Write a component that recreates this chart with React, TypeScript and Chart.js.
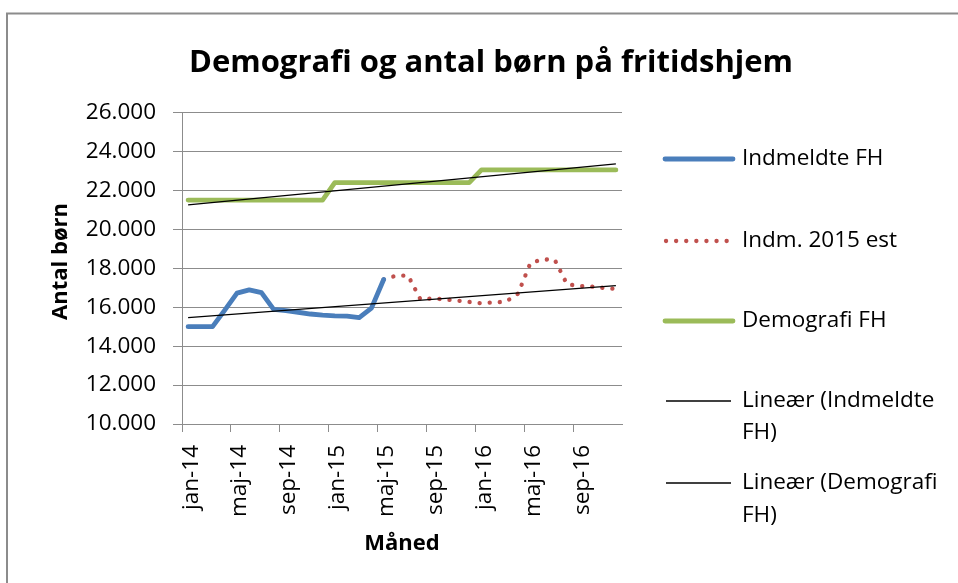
import React, { useEffect, useRef } from 'react';
import { Chart, registerables } from 'chart.js';

Chart.register(...registerables);

// ---------- data ----------
const monthNames = ['jan', 'feb', 'mar', 'apr', 'maj', 'jun', 'jul', 'aug', 'sep', 'okt', 'nov', 'dec'];
const years = ['14', '15', '16'];
const months = years.flatMap((y) => monthNames.map((m) => `${m}-${y}`));

// Indmeldte FH: jan-14 .. maj-15
const indmeldteFH = [
  15000, 15000, 15000, 15850, 16720, 16890, 16750, 15890, 15820, 15740, 15650, 15590,
  15550, 15540, 15460, 15950, 17420,
];
// Indm. 2015 est: maj-15 .. dec-16
const indm2015Est = [
  17420, 17620, 17620, 16410, 16450, 16400, 16340, 16270, 16200, 16250, 16280, 16700,
  18260, 18460, 18430, 17180, 17090, 17060, 16990, 16940,
];
const estStartIndex = 16;
// Demografi FH: jan-14 .. dec-16
const demografiFH = [
  21500, 21500, 21500, 21500, 21500, 21500, 21500, 21500, 21500, 21500, 21500, 21500,
  22400, 22400, 22400, 22400, 22400, 22400, 22400, 22400, 22400, 22400, 22400, 22400,
  23050, 23050, 23050, 23050, 23050, 23050, 23050, 23050, 23050, 23050, 23050, 23050,
];
// Linear trend lines (start at jan-14, end at dec-16)
const trendIndmeldte = [15460, 17110];
const trendDemografi = [21250, 23360];

const yMin = 10000;
const yMax = 26000;
const yStep = 2000;
const labelEvery = 4;

const titleText = 'Demografi og antal børn på fritidshjem';
const yTitle = 'Antal børn';
const xTitle = 'Måned';
const legendNames = ['Indmeldte FH', 'Indm. 2015 est', 'Demografi FH', 'Lineær (Indmeldte', 'Lineær (Demografi'];

const BLUE = '#4A7EBB';
const RED = '#C0504D';
const GREEN = '#9BBB59';
const GRID = '#8C8C8C';
const FONT = '"Open Sans", "Noto Sans", sans-serif';
const DOTS = [0.1, 10];

const fmt = (v: number) => {
  const n = Math.round(v);
  return `${Math.floor(n / 1000)}.${String(n % 1000).padStart(3, '0')}`;
};

const decorPlugin = {
  id: 'decor',
  afterDraw(chart: any) {
    const ctx = chart.ctx as CanvasRenderingContext2D;
    ctx.save();
    // outer frame
    ctx.strokeStyle = GRID;
    ctx.lineWidth = 2;
    ctx.beginPath();
    ctx.moveTo(7, 583);
    ctx.lineTo(7, 13.5);
    ctx.lineTo(958, 13.5);
    ctx.stroke();

    ctx.fillStyle = '#000';
    // title
    ctx.font = `bold 31px ${FONT}`;
    ctx.textAlign = 'center';
    ctx.textBaseline = 'alphabetic';
    ctx.fillText(titleText, 491, 72);

    // axis titles
    ctx.font = `bold 22px ${FONT}`;
    ctx.save();
    ctx.translate(67, 261.5);
    ctx.rotate(-Math.PI / 2);
    ctx.fillText(yTitle, 0, 0);
    ctx.restore();
    const ca = chart.chartArea;
    ctx.fillText(xTitle, (ca.left + ca.right) / 2, 550);

    // legend
    const x0 = 665;
    const x1 = 733;
    const tx = 742;
    const ys = [159, 241, 321, 401, 483];
    ctx.lineCap = 'round';
    // blue
    ctx.strokeStyle = BLUE;
    ctx.lineWidth = 4.8;
    ctx.beginPath();
    ctx.moveTo(x0, ys[0]);
    ctx.lineTo(x1, ys[0]);
    ctx.stroke();
    // red dotted
    ctx.strokeStyle = RED;
    ctx.lineWidth = 4.3;
    ctx.setLineDash(DOTS);
    ctx.beginPath();
    ctx.moveTo(x0 + 1, ys[1]);
    ctx.lineTo(x1, ys[1]);
    ctx.stroke();
    ctx.setLineDash([]);
    // green
    ctx.strokeStyle = GREEN;
    ctx.lineWidth = 4.8;
    ctx.beginPath();
    ctx.moveTo(x0, ys[2]);
    ctx.lineTo(x1, ys[2]);
    ctx.stroke();
    // black trend lines
    ctx.lineCap = 'butt';
    ctx.strokeStyle = '#000';
    ctx.lineWidth = 1.3;
    for (const y of [ys[3], ys[4]]) {
      ctx.beginPath();
      ctx.moveTo(x0 + 1, y);
      ctx.lineTo(x1 - 2, y);
      ctx.stroke();
    }

    ctx.font = `22.5px ${FONT}`;
    ctx.textAlign = 'left';
    ctx.textBaseline = 'middle';
    ctx.fillStyle = '#000';
    ctx.fillText(legendNames[0], tx, ys[0]);
    ctx.fillText(legendNames[1], tx, ys[1]);
    ctx.fillText(legendNames[2], tx, ys[2]);
    ctx.fillText(legendNames[3], tx, ys[3]);
    ctx.fillText('FH)', tx, ys[3] + 32);
    ctx.fillText(legendNames[4], tx, ys[4]);
    ctx.fillText('FH)', tx, ys[4] + 33);
    ctx.restore();
  },
};

export default function App() {
  const ref = useRef<HTMLCanvasElement | null>(null);

  useEffect(() => {
    if (!ref.current) return;
    const blueData = months.map((_, i) => (i < indmeldteFH.length ? indmeldteFH[i] : null));
    const redData = months.map((_, i) =>
      i >= estStartIndex && i - estStartIndex < indm2015Est.length ? indm2015Est[i - estStartIndex] : null
    );
    const last = months.length - 1;

    const chart = new Chart(ref.current, {
      type: 'line',
      data: {
        labels: months,
        datasets: [
          {
            label: 'Lineær (Indmeldte FH)',
            data: [
              { x: months[0], y: trendIndmeldte[0] },
              { x: months[last], y: trendIndmeldte[1] },
            ] as any,
            borderColor: '#000',
            borderWidth: 1.3,
            pointRadius: 0,
            order: 0,
          },
          {
            label: 'Lineær (Demografi FH)',
            data: [
              { x: months[0], y: trendDemografi[0] },
              { x: months[last], y: trendDemografi[1] },
            ] as any,
            borderColor: '#000',
            borderWidth: 1.3,
            pointRadius: 0,
            order: 0,
          },
          {
            label: 'Indmeldte FH',
            data: blueData,
            borderColor: BLUE,
            borderWidth: 4.8,
            borderCapStyle: 'round',
            borderJoinStyle: 'round',
            pointRadius: 0,
            spanGaps: false,
            order: 1,
          },
          {
            label: 'Indm. 2015 est',
            data: redData,
            borderColor: RED,
            borderWidth: 4.3,
            borderDash: DOTS,
            borderCapStyle: 'round',
            borderJoinStyle: 'round',
            pointRadius: 0,
            order: 2,
          },
          {
            label: 'Demografi FH',
            data: demografiFH,
            borderColor: GREEN,
            borderWidth: 4.8,
            borderCapStyle: 'round',
            borderJoinStyle: 'round',
            pointRadius: 0,
            order: 3,
          },
        ],
      },
      options: {
        animation: false,
        responsive: false,
        devicePixelRatio: 1,
        layout: { padding: { left: 0, top: 112.5, right: 336, bottom: 0 } },
        plugins: {
          legend: { display: false },
          title: { display: false },
          tooltip: { enabled: false },
        },
        scales: {
          x: {
            type: 'category',
            offset: true,
            grid: {
              offset: true,
              drawOnChartArea: false,
              drawTicks: true,
              tickLength: 8,
              tickColor: (c: any) => (c.index % labelEvery === 0 ? GRID : 'rgba(0,0,0,0)'),
              color: GRID,
            },
            border: { display: true, color: GRID, width: 1 },
            ticks: {
              autoSkip: false,
              minRotation: 90,
              maxRotation: 90,
              padding: 13,
              labelOffset: 3,
              color: '#000',
              font: { family: FONT, size: 22.5 },
              callback: (_v: any, i: number) => (i % labelEvery === 0 ? months[i] : ''),
            },
            afterFit: (s: any) => {
              s.height = 159;
            },
          },
          y: {
            min: yMin,
            max: yMax,
            grid: { color: GRID, tickLength: 9, drawTicks: true },
            border: { display: true, color: GRID, width: 1 },
            ticks: {
              stepSize: yStep,
              padding: 17,
              color: '#000',
              font: { family: FONT, size: 22.5 },
              callback: (v: any) => fmt(Number(v)),
            },
            afterFit: (s: any) => {
              s.width = 182;
            },
          },
        },
      },
      plugins: [decorPlugin],
    });
    return () => chart.destroy();
  }, []);

  return (
    <div style={{ position: 'absolute', left: 0, top: 0, width: 958, height: 583, background: '#fff' }}>
      <canvas ref={ref} width={958} height={583} style={{ display: 'block', width: 958, height: 583 }} />
    </div>
  );
}
